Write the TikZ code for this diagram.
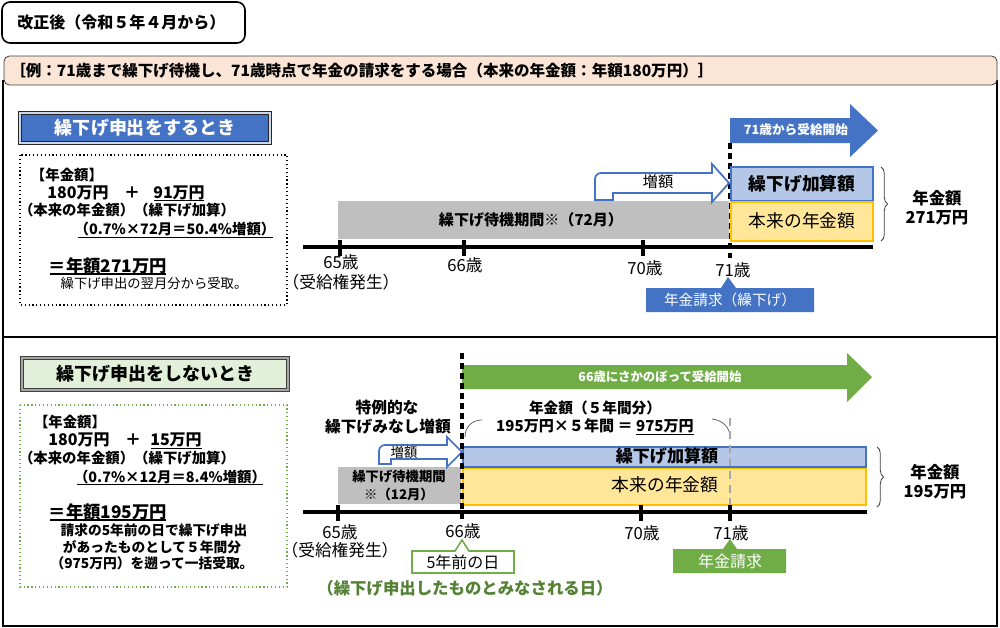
\documentclass[tikz,border=0pt]{standalone}
\usepackage{fontspec}
\setmainfont{Noto Sans CJK JP}
\usetikzlibrary{decorations.pathreplacing}
\definecolor{myblue}{HTML}{4472C4}
\definecolor{lblue}{HTML}{B4C7E7}
\definecolor{lyellow}{HTML}{FFE699}
\definecolor{orng}{HTML}{FFC000}
\definecolor{gry}{HTML}{BFBFBF}
\definecolor{grn}{HTML}{70AD47}
\definecolor{lgrn}{HTML}{E2F0D9}
\definecolor{peach}{HTML}{FBE5D6}
\definecolor{dgrn}{HTML}{548235}
\newcommand\fz[1]{\fontsize{#1}{#1}\selectfont}
\begin{document}
\begin{tikzpicture}[x=0.75pt,y=-0.75pt,
  t/.style={inner sep=0pt},
  axisline/.style={line width=2.3pt},
  tickmark/.style={line width=2.3pt},
  vdash/.style={line width=2.3pt, dash pattern=on 4.5pt off 3pt},
  bluebox/.style={draw=myblue, fill=lblue, line width=1.4pt},
  yelbox/.style={draw=orng, fill=lyellow, line width=1.4pt},
  bracestyle/.style={decorate, decoration={brace, amplitude=5pt}, draw=black!75, line width=0.6pt},
  agelbl/.style={inner sep=0pt, font=\fz{12.5}},
  ]
\useasboundingbox (0,0) rectangle (1000,628);
\fill[white] (0,0) rectangle (1000,628);

% ---------- header ----------
\draw[line width=1.2pt, rounded corners=6pt] (2,2) rectangle (245,43);
\node[t, anchor=west, font=\fz{12}\bfseries] (hdr) at (17,22) {改正後（令和５年４月から）};
\draw[line width=0.8pt] (3,80) -- (3,626) -- (997,626) -- (997,80);
\draw[line width=0.8pt] (3,337) -- (997,337);
\draw[draw=black!75, fill=peach, rounded corners=4pt, line width=0.6pt] (4,56) rectangle (997,85);
\node[t, anchor=west, font=\fz{11.65}\bfseries] (ex) at (10,71) {［例：71歳まで繰下げ待機し、71歳時点で年金の請求をする場合（本来の年金額：年額180万円）］};

% ---------- section 1 ----------
\draw[draw=black!85, double=lblue!70, double distance=0.8pt, line width=0.9pt, fill=myblue] (20,113) rectangle (270,143);
\node[t, text=white, font=\fz{13.5}\bfseries] (s1title) at (145,128) {繰下げ申出をするとき};

\draw[black, dotted, line width=0.9pt] (20,155) rectangle (287,305);
\node[t, font=\fz{10.8}\bfseries] (a1) at (67,175) {【年金額】};
\node[t, font=\fz{12}\bfseries] (a2) at (78,193) {180万円};
\node[t, font=\fz{12}\bfseries] (a3) at (132,193) {＋};
\node[t, font=\fz{12}\bfseries] (a4) at (179,193) {91万円};
\draw[line width=0.7pt] (154,200) -- (204,200);
\node[t, font=\fz{10.8}\bfseries] (a5) at (127,210) {（本来の年金額）（繰下げ加算）};
\node[t, font=\fz{10.8}\bfseries] (a6) at (175,229) {（0.7\%×72月＝50.4\%増額）};
\draw[line width=0.7pt] (78,237) -- (273,237);
\node[t, font=\fz{13}\bfseries] (a7) at (108,266) {＝年額271万円};
\draw[line width=0.8pt] (50,274) -- (166,274);
\node[t, font=\fz{10}] (a8) at (154,283) {繰下げ申出の翌月分から受取。};

% arrow: 71 start
\fill[myblue] (730,118) -- (850,118) -- (850,104) -- (878,130.5) -- (850,157) -- (850,143) -- (730,143) -- cycle;
\node[t, text=white, font=\fz{9.5}\bfseries] (arr1) at (796,130) {71歳から受給開始};

\draw[vdash] (730,143) -- (730,258);

% bars
\fill[gry] (338,201) rectangle (729,239);
\node[t, font=\fz{11.3}\bfseries] (wait1) at (531,220) {繰下げ待機期間※（72月）};
\draw[bluebox] (731,167) rectangle (873,201);
\node[t, font=\fz{13.3}\bfseries] (kasan1) at (802,184) {繰下げ加算額};
\draw[yelbox] (731,202) rectangle (873,241);
\node[t, font=\fz{13.3}] (honrai1) at (802,221) {本来の年金額};

% bent arrow 増額
\draw[myblue, fill=white, line width=1.3pt] (595,200) -- (595,179) to[out=90,in=180] (601,173) -- (712,173) -- (712,164) -- (729,183) -- (712,202) -- (712,193) -- (613,193) -- (613,200) -- cycle;
\node[t, font=\fz{11.5}] (zo1) at (658,182) {増額};

% brace
\draw[bracestyle] (881,167) -- (881,241);
\node[t, font=\fz{12.3}\bfseries] (ng1a) at (937,198) {年金額};
\node[t, font=\fz{12.3}\bfseries] (ng1b) at (937,218) {271万円};

% axis
\draw[axisline] (303,247) -- (873,247);
\draw[tickmark] (340,240) -- (340,256);
\draw[tickmark] (464,240) -- (464,256);
\draw[tickmark] (643,240) -- (643,256);
\node[agelbl] (l65) at (341,262) {65歳};
\node[agelbl] (l65b) at (341,282) {（受給権発生）};
\node[agelbl] (l66) at (465,265) {66歳};
\node[agelbl] (l70) at (645,268) {70歳};
\node[agelbl] (l71) at (733,270) {71歳};

% callout
\fill[myblue] (646,288) -- (721,288) -- (728,277) -- (736,288) -- (814,288) -- (814,312) -- (646,312) -- cycle;
\node[t, text=white, font=\fz{11}] (cl1) at (730,300) {年金請求（繰下げ）};

% ---------- section 2 ----------
\draw[draw=black!75, double=black!35, double distance=0.8pt, line width=0.9pt, fill=lgrn] (22,358) rectangle (288,390);
\node[t, font=\fz{13.5}\bfseries] (s2title) at (155,374) {繰下げ申出をしないとき};

\draw[grn, dotted, line width=0.9pt] (20,405) rectangle (287,587);
\node[t, font=\fz{10.8}\bfseries] (b1) at (70,422) {【年金額】};
\node[t, font=\fz{12}\bfseries] (b2) at (79,440) {180万円};
\node[t, font=\fz{12}\bfseries] (b3) at (133,440) {＋};
\node[t, font=\fz{12}\bfseries] (b4) at (176,440) {15万円};
\draw[line width=0.7pt] (151,448) -- (202,448);
\node[t, font=\fz{10.8}\bfseries] (b5) at (127,458) {（本来の年金額）（繰下げ加算）};
\node[t, font=\fz{10.8}\bfseries] (b6) at (170,477) {（0.7\%×12月＝8.4\%増額）};
\draw[line width=0.7pt] (77,484) -- (263,484);
\node[t, font=\fz{13}\bfseries] (b7) at (108,512) {＝年額195万円};
\draw[line width=0.8pt] (50,520) -- (166,520);
\node[t, font=\fz{10.3}\bfseries] (b8) at (154,530) {請求の5年前の日で繰下げ申出};
\node[t, font=\fz{10.3}\bfseries] (b9) at (152,547) {があったものとして５年間分};
\node[t, font=\fz{10.3}\bfseries] (b10) at (152,563) {（975万円）を遡って一括受取。};

% green arrow
\fill[grn] (462,365) -- (847,365) -- (847,353) -- (872,377) -- (847,402) -- (847,389) -- (462,389) -- cycle;
\node[t, text=white, font=\fz{9.3}\bfseries] (arr2) at (660,377) {66歳にさかのぼって受給開始};

\node[t, font=\fz{11.8}\bfseries] (tk1) at (387,408) {特例的な};
\node[t, font=\fz{11.8}\bfseries] (tk2) at (388,427) {繰下げみなし増額};
\node[t, font=\fz{11}\bfseries] (ng5a) at (595,408) {年金額（５年間分）};
\node[t, font=\fz{11.3}\bfseries] (ng5b) at (595,427) {195万円×５年間 ＝ \underline{975万円}};

% curves
\draw[black!70, line width=0.5pt] (465,437) .. controls (465,427) and (472,420) .. (482,420);
\draw[black!70, line width=0.5pt] (712,419) .. controls (722,420) and (730,427) .. (730,437);

% bars
\fill[gry] (338,467) rectangle (461,504);
\node[t, font=\fz{10}\bfseries] (wait2a) at (399,477) {繰下げ待機期間};
\node[t, font=\fz{10}\bfseries] (wait2b) at (399,494) {※（12月）};
\draw[yelbox] (463,468) rectangle (866,505);
\node[t, font=\fz{13.3}] (honrai2) at (665,485) {本来の年金額};
\draw[bluebox] (463,447) rectangle (866,467);
\node[t, font=\fz{12.8}\bfseries] (kasan2) at (667,456) {繰下げ加算額};

\draw[black!35, line width=1.6pt, dash pattern=on 6pt off 4pt] (730,418) -- (730,509);

% bent arrow 増額
\draw[myblue, fill=white, line width=1.2pt] (379,464) -- (379,451) to[out=90,in=180] (385,445) -- (447,445) -- (447,437) -- (462,452) -- (447,467) -- (447,459) -- (391,459) -- (391,464) -- cycle;
\node[t, font=\fz{10}] (zo2) at (404,452) {増額};

% brace
\draw[bracestyle] (877,447) -- (877,507);
\node[t, font=\fz{12.3}\bfseries] (ng2a) at (935,472) {年金額};
\node[t, font=\fz{12.3}\bfseries] (ng2b) at (935,492) {195万円};

% axis
\draw[axisline] (303,512) -- (867,512);
\draw[tickmark] (338,505) -- (338,521);
\draw[tickmark] (641,505) -- (641,521);
\draw[tickmark] (730,505) -- (730,521);
\draw[vdash] (462,353) -- (462,522);
\node[agelbl] (m65) at (340,532) {65歳};
\node[agelbl] (m65b) at (340,550) {（受給権発生）};
\node[agelbl] (m66) at (463,531) {66歳};
\node[agelbl] (m70) at (642,533) {70歳};
\node[agelbl] (m71) at (731,533) {71歳};

% callouts
\draw[grn, fill=white, line width=1.2pt] (412,551) -- (455,551) -- (462,540) -- (469,551) -- (514,551) -- (514,573) -- (412,573) -- cycle;
\node[t, font=\fz{12}] (cl2) at (463,562) {5年前の日};
\fill[grn] (673,549) -- (723,549) -- (730,539) -- (737,549) -- (786,549) -- (786,573) -- (673,573) -- cycle;
\node[t, text=white, font=\fz{12}] (cl3) at (730,561) {年金請求};
\node[t, text=dgrn, font=\fz{12.3}\bfseries] (minasu) at (465,588) {（繰下げ申出したものとみなされる日）};
\end{tikzpicture}
\end{document}
